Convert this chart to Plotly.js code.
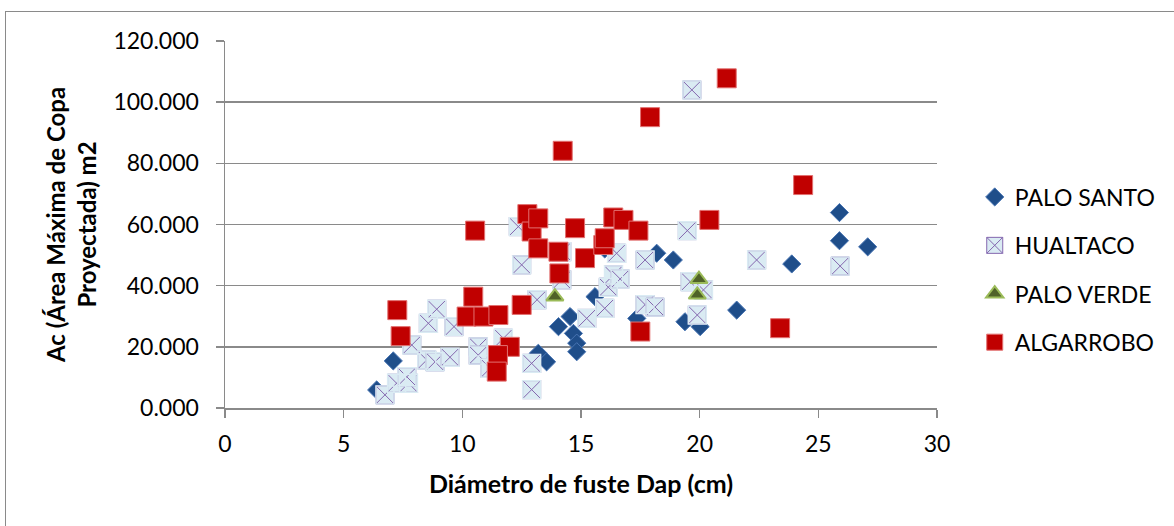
<!DOCTYPE html>
<html>
<head>
<meta charset="utf-8">
<script src="https://cdn.plot.ly/plotly-3.0.1.min.js"></script>
<style>
  html, body { margin: 0; padding: 0; background: #ffffff; }
  #wrap { position: relative; width: 1174px; height: 526px; overflow: hidden; }
  #chart { position: absolute; left: 0; top: 0; width: 1174px; height: 526px; }
  #frame { position: absolute; left: 5px; top: 11px; width: 1200px; height: 600px;
           border-left: 1.5px solid #8a8a8a; border-top: 1.5px solid #8a8a8a; pointer-events: none; }
</style>
</head>
<body>
<div id="wrap">
  <div id="chart"></div>
  <div id="frame"></div>
</div>
<script>
// ---- Data ----
var seriesNames = ["PALO SANTO", "HUALTACO", "PALO VERDE", "ALGARROBO"];

var paloSantoX = [6.39, 7.09, 13.2, 13.55, 14.05, 14.54, 14.68, 14.82, 14.82, 15.59, 16.0, 17.35, 18.19, 18.89, 19.38, 20.02, 21.56, 23.88, 25.89, 25.89, 27.08];
var paloSantoY = [5.9, 15.4, 17.9, 15.1, 26.6, 29.9, 24.4, 21.2, 18.4, 36.4, 52.0, 29.3, 50.6, 48.4, 28.2, 26.6, 32.0, 47.1, 63.9, 54.7, 52.7];

var hualtacoX = [6.74, 7.23, 7.73, 7.66, 7.87, 8.5, 8.85, 9.48, 8.57, 8.92, 9.65, 10.67, 10.67, 11.17, 11.73, 12.92, 12.92, 13.15, 12.36, 12.5, 14.19, 14.19, 15.24, 16.0, 16.15, 16.37, 16.65, 16.5, 17.7, 17.7, 18.12, 19.48, 19.67, 19.6, 20.16, 19.9, 22.4, 25.92];
var hualtacoY = [4.3, 8.1, 8.1, 10.2, 20.6, 15.7, 15.1, 16.6, 27.7, 32.3, 26.6, 20.0, 17.3, 13.0, 22.8, 14.6, 6.0, 35.4, 59.3, 46.8, 51.1, 41.9, 29.3, 32.6, 39.5, 43.5, 42.2, 50.6, 48.4, 33.8, 33.0, 58.0, 104.0, 41.3, 38.6, 30.4, 48.4, 46.4];

var paloVerdeX = [13.9, 19.97, 19.9];
var paloVerdeY = [36.4, 42.1, 37.0];

var algarroboX = [7.26, 7.40, 10.46, 10.54, 10.18, 10.89, 11.52, 12.0, 11.5, 11.45, 12.5, 12.74, 12.92, 13.2, 13.2, 14.23, 14.05, 14.09, 14.75, 15.17, 15.94, 16.0, 16.36, 16.79, 17.42, 17.5, 17.91, 20.41, 21.14, 23.39, 24.36];
var algarroboY = [32.0, 23.5, 36.4, 58.0, 29.9, 29.9, 30.4, 20.0, 17.3, 11.9, 33.7, 63.4, 57.7, 62.0, 52.2, 84.1, 51.1, 44.0, 58.8, 49.0, 53.3, 55.5, 62.3, 61.5, 58.0, 25.0, 95.1, 61.5, 107.8, 26.1, 72.9];

var xTickVals = [0, 5, 10, 15, 20, 25, 30];
var yTickVals = [0, 20, 40, 60, 80, 100, 120];

var xTitle = "Diámetro de fuste Dap (cm)";
var yTitle = "Ac (Área Máxima de Copa<br>Proyectada) m2";

// ---- Traces ----
var FONT = "Lato, 'Open Sans', sans-serif";

var traces = [
  {
    type: "scatter", mode: "markers", name: seriesNames[0], legendgroup: "g1",
    x: paloSantoX, y: paloSantoY,
    marker: { symbol: "diamond", size: 14, color: "#1F4E8A", line: { color: "#4A76B4", width: 1 } }
  },
  {
    type: "scatter", mode: "markers", name: seriesNames[1], legendgroup: "g2",
    x: hualtacoX, y: hualtacoY,
    marker: { symbol: "square-x", size: 18, color: "#DAEBF3", line: { color: "#8466AE", width: 1 } }
  },
  {
    type: "scatter", mode: "markers", name: seriesNames[1], legendgroup: "g2", showlegend: false,
    x: hualtacoX, y: hualtacoY, hoverinfo: "skip",
    marker: { symbol: "square-open", size: 18, color: "#DAEBF3", line: { color: "#DAEBF3", width: 1.4 } }
  },
  {
    type: "scatter", mode: "markers", name: seriesNames[2], legendgroup: "g3",
    x: paloVerdeX, y: paloVerdeY,
    marker: { symbol: "triangle-up", size: 15, color: "#4F6228", line: { color: "#9BBB59", width: 2 } }
  },
  {
    type: "scatter", mode: "markers", name: seriesNames[3], legendgroup: "g4",
    x: algarroboX, y: algarroboY,
    marker: { symbol: "square", size: 19, color: "#C00000", line: { color: "#E27070", width: 1 } }
  }
];

var layout = {
  width: 1174, height: 526,
  paper_bgcolor: "rgba(0,0,0,0)", plot_bgcolor: "rgba(0,0,0,0)",
  margin: { l: 225, r: 237, t: 41, b: 118, pad: 0 },
  font: { family: FONT, size: 23, color: "#000000" },
  showlegend: true,
  legend: {
    x: 1.053, xanchor: "left", y: 0.376, yanchor: "middle",
    font: { family: FONT, size: 23, color: "#000000" },
    tracegroupgap: 15.5, bgcolor: "rgba(0,0,0,0)", borderwidth: 0
  },
  xaxis: {
    range: [0, 30], tickvals: xTickVals, ticktext: xTickVals.map(String),
    ticks: "outside", ticklen: 8, tickwidth: 1.5, tickcolor: "#8a8a8a",
    showline: true, linecolor: "#8a8a8a", linewidth: 1.5,
    showgrid: false, zeroline: false, fixedrange: true,
    tickfont: { family: FONT, size: 23, color: "#000000" },
    ticklabelstandoff: 7,
    title: { text: xTitle, font: { family: FONT, size: 25, color: "#000000", weight: "bold" }, standoff: 19 }
  },
  yaxis: {
    range: [0, 120], tickvals: yTickVals, tickformat: ".3f",
    ticks: "outside", ticklen: 8, tickwidth: 1.5, tickcolor: "#8a8a8a",
    showline: true, linecolor: "#8a8a8a", linewidth: 1.5,
    showgrid: true, gridcolor: "#8a8a8a", gridwidth: 1.5, zeroline: false, fixedrange: true,
    tickfont: { family: FONT, size: 23, color: "#000000" },
    ticklabelstandoff: 12,
    title: { text: yTitle, font: { family: FONT, size: 24, color: "#000000", weight: "bold" }, standoff: 10 }
  }
};

Plotly.newPlot("chart", traces, layout, { displayModeBar: false, staticPlot: true });
</script>
</body>
</html>
